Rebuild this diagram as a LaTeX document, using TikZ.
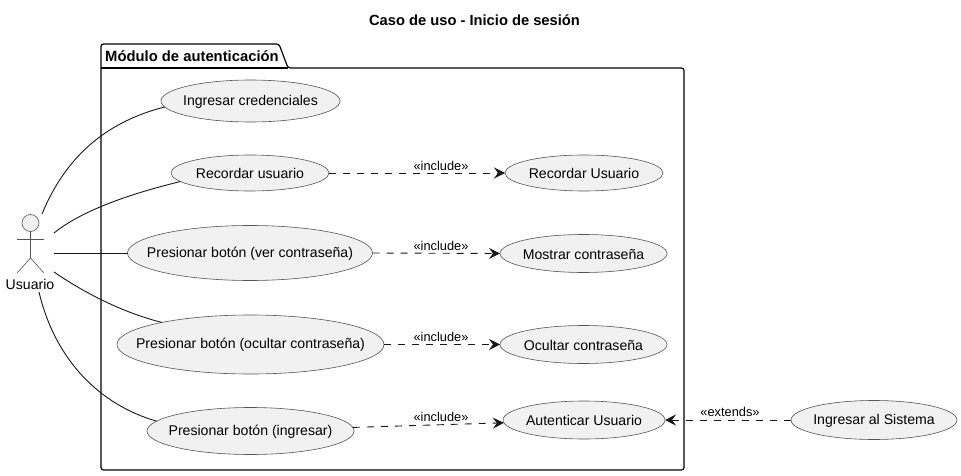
\documentclass[tikz,border=0pt]{standalone}
\usepackage{fontspec}
\setmainfont{Liberation Sans}
\usetikzlibrary{shapes.geometric,arrows.meta}
\definecolor{ufill}{HTML}{F1F1F1}
\definecolor{uline}{HTML}{555555}
\definecolor{ink}{HTML}{181818}
\tikzset{
  usecase/.style n args={3}{ellipse,draw=uline,fill=ufill,line width=.6pt,inner sep=0pt,outer sep=0pt,minimum width=#1pt,minimum height=#2pt,
    label={[font=\fontsize{14.1}{16}\selectfont,text=black,inner sep=0pt,name=#3,yshift=-.6pt]center:#3}},
  assoc/.style={draw=ink,line width=.9pt},
  rel/.style={draw=ink,line width=.9pt,dash pattern=on 7pt off 7pt,-{Stealth[length=11pt,width=11pt,inset=4pt]}},
  stereo/.style={font=\fontsize{12.8}{14}\selectfont,text=black,inner sep=0pt},
  pkg/.style={draw=black,line width=1.2pt},
  stick/.style={draw=uline,line width=.6pt}
}
\begin{document}
\begin{tikzpicture}[x=1pt,y=-1pt]
\useasboundingbox (0,0) rectangle (961,476);
\node[font=\bfseries\fontsize{14.7}{16}\selectfont,inner sep=0pt] (title) at (474.5,20) {Caso de uso - Inicio de sesión};
% package
\draw[pkg,rounded corners=2.5pt] (101,68) -- (101,44) -- (279,44) -- (288,68) -- (684,68) -- (684,470) -- (101,470) -- cycle;
\draw[pkg] (101,68) -- (288,68);
\node[anchor=west,font=\bfseries\fontsize{14.8}{16}\selectfont,inner sep=0pt] (pkgname) at (105,56) {Módulo de autenticación};
% actor
\node[circle,draw=uline,fill=ufill,line width=.6pt,minimum size=17pt,inner sep=0pt] (head) at (30.5,223) {};
\coordinate (hip) at (30.5,258);
\coordinate (armL) at (17,239);
\coordinate (armR) at (44,239);
\coordinate (legL) at (17,273);
\coordinate (legR) at (44,273);
\draw[stick] (head.south) -- (hip) -- (legL);
\draw[stick] (hip) -- (legR);
\draw[stick] (armL) -- (armR);
\node[font=\fontsize{14.1}{16}\selectfont,inner sep=0pt] (usuario) at (30,284) {Usuario};
% use cases
\node[usecase={179}{42}{Ingresar credenciales}] (ic) at (250.5,101) {};
\node[usecase={158}{36}{Recordar usuario}] (ru) at (250,173) {};
\node[usecase={245}{55}{Presionar botón (ver contraseña)}] (pv) at (250,253) {};
\node[usecase={267}{59}{Presionar botón (ocultar contraseña)}] (po) at (250.5,344.5) {};
\node[usecase={207}{47}{Presionar botón (ingresar)}] (pi) at (250.5,431) {};
\node[usecase={158}{36}{Recordar Usuario}] (rU) at (584,173) {};
\node[usecase={167}{38}{Mostrar contraseña}] (mc) at (583.5,253.5) {};
\node[usecase={167}{38}{Ocultar contraseña}] (oc) at (583.5,344.5) {};
\node[usecase={162}{38}{Autenticar Usuario}] (au) at (584,420) {};
\node[usecase={166}{39}{Ingresar al Sistema}] (is) at (874,420) {};
% actor ends
\coordinate (a1) at (42,214);
\coordinate (a2) at (54,233);
\coordinate (a3) at (54,253);
\coordinate (a4) at (54,272);
\coordinate (a5) at (39,292);
% associations
\draw[assoc] (a1) .. controls (65,158) and (105,122) .. (ic.184);
\draw[assoc] (a2) .. controls (80,212) and (125,195) .. (ru.187);
\draw[assoc] (a3) -- (pv.west);
\draw[assoc] (a4) .. controls (80,290) and (120,312) .. (po.166.5);
\draw[assoc] (a5) .. controls (55,360) and (100,405) .. (pi.174);
% relations
\draw[rel] (ru.east) -- (rU.west);
\draw[rel] (pv.east) -- (mc.west);
\draw[rel] (po.east) -- (oc.west);
\draw[rel] (pi.2) -- (au.182);
\draw[rel] (is.west) -- (au.east);
\node[stereo] (l1) at (441,166) {«include»};
\node[stereo] (l2) at (441,246) {«include»};
\node[stereo] (l3) at (441,337) {«include»};
\node[stereo] (l4) at (441,417) {«include»};
\node[stereo] (l5) at (730,412) {«extends»};
\end{tikzpicture}
\end{document}
